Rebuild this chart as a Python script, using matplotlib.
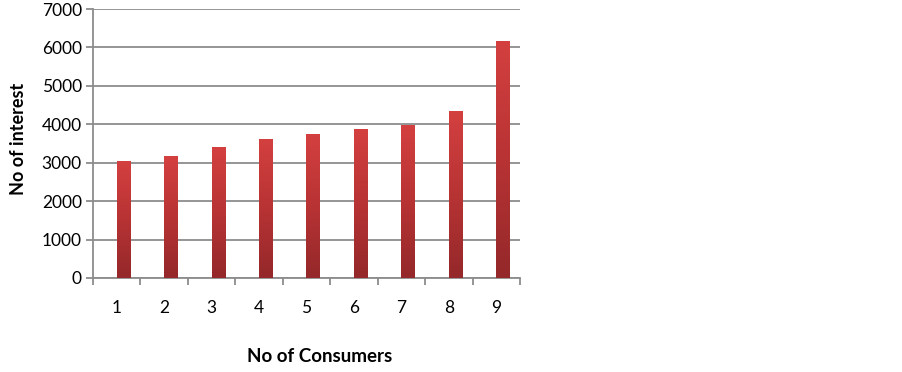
import numpy as np
import matplotlib.pyplot as plt
from matplotlib.colors import LinearSegmentedColormap

# datos
consumidores = [1, 2, 3, 4, 5, 6, 7, 8, 9]
interes = [3050, 3170, 3410, 3630, 3740, 3870, 3990, 4350, 6180]

fig = plt.figure(figsize=(9.03, 3.72), dpi=100)
ax = fig.add_axes([93/903, 1 - 278/372, (520 - 93)/903, (278 - 9)/372])

x = np.arange(len(consumidores))
barras = ax.bar(x + 0.14, interes, width=0.28, color='none', edgecolor='none', zorder=3)

# degradado rojo de abajo (oscuro) a arriba (claro)
cmap = LinearSegmentedColormap.from_list('rojo', ['#94282a', '#b83334', '#d44040'])
grad = np.linspace(0, 1, 256).reshape(-1, 1)
for b in barras:
    x0, y0 = b.get_x(), b.get_y()
    w, h = b.get_width(), b.get_height()
    im = ax.imshow(grad, extent=(x0, x0 + w, y0, y0 + h), origin='lower',
                   cmap=cmap, aspect='auto', zorder=3)
    im.set_clip_path(b)

ax.set_xlim(-0.5, len(consumidores) - 0.5)
ax.set_ylim(0, 7000)
ax.set_yticks(np.arange(0, 7001, 1000))
ax.set_xticks(x)
ax.set_xticklabels([str(c) for c in consumidores])
ax.set_xticks(np.arange(-0.5, len(consumidores)), minor=True)

ax.yaxis.grid(True, color='#8c8c8c', linewidth=1.3, zorder=0)
for s in ['top', 'right']:
    ax.spines[s].set_visible(False)
for s in ['left', 'bottom']:
    ax.spines[s].set_color('#8c8c8c')
    ax.spines[s].set_linewidth(1.3)

ax.tick_params(axis='x', which='major', length=0, pad=16, labelsize=12.5)
ax.tick_params(axis='x', which='minor', length=5, width=1.3, color='#8c8c8c')
ax.tick_params(axis='y', length=5, width=1.3, color='#8c8c8c', pad=3, labelsize=12.5)
for lab in ax.get_xticklabels() + ax.get_yticklabels():
    lab.set_family('Lato')

fig.text(19/903, 1 - 139/372, 'No of interest', rotation=90, ha='center', va='center',
         fontsize=13, fontweight='bold', family='Lato')
fig.text(320/903, 1 - 357/372, 'No of Consumers', ha='center', va='center',
         fontsize=13.5, fontweight='bold', family='Lato')

fig.savefig('out.png', dpi=100)
